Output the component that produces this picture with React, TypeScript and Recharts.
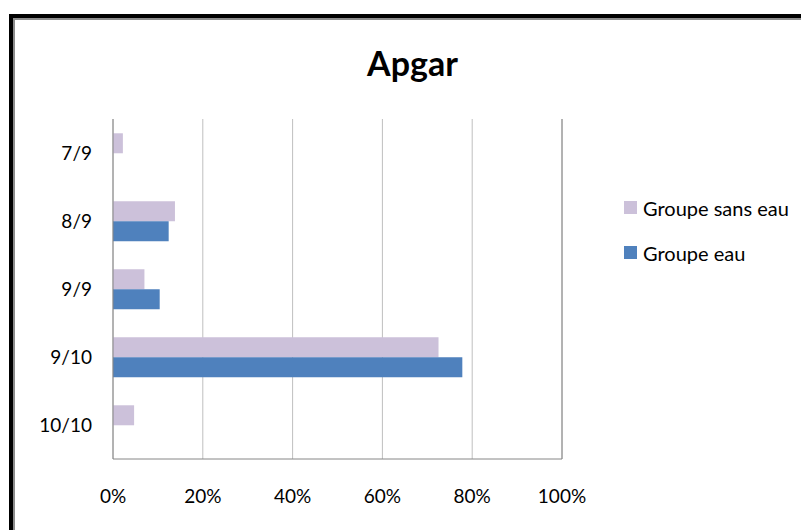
import React from 'react';
import { BarChart, Bar, CartesianGrid, XAxis, YAxis, Legend, ReferenceLine } from 'recharts';

const categories = ['7/9', '8/9', '9/9', '9/10', '10/10'];
const sansEau = [0.022, 0.138, 0.07, 0.725, 0.047];
const eau = [0, 0.124, 0.104, 0.778, 0];
const xTicks = [0, 0.2, 0.4, 0.6, 0.8, 1];
const seriesNames = ['Groupe sans eau', 'Groupe eau'];

const colours = { sansEau: '#CCC1DA', eau: '#4F81BD' };
const font = 'Lato, "Liberation Sans", sans-serif';

const data = categories.map((name, i) => ({ name, sansEau: sansEau[i], eau: eau[i] }));

const LegendBox = ({ payload }: any) => {
  const items = [...(payload || [])].sort((a: any, b: any) => seriesNames.indexOf(a.value) - seriesNames.indexOf(b.value));
  return (
    <div style={{ fontFamily: font, fontSize: 20, color: '#000' }}>
      {items.map((p: any) => (
        <div key={p.value} style={{ display: 'flex', alignItems: 'center', height: 45 }}>
          <span style={{ width: 13, height: 13, background: p.color, marginRight: 6, display: 'inline-block' }} />
          <span>{p.value}</span>
        </div>
      ))}
    </div>
  );
};

export default function App() {
  return (
    <div style={{ position: 'absolute', left: 0, top: 0, width: 801, height: 530, overflow: 'hidden', background: '#fff' }}>
      <div style={{ position: 'absolute', left: 9, top: 14, width: 900, height: 600, borderLeft: '4px solid #000', borderTop: '4px solid #000' }} />
      <div style={{ position: 'absolute', left: 13, top: 18, width: 900, height: 600, borderLeft: '2px solid #8c8c8c', borderTop: '2px solid #8c8c8c' }} />
      <div style={{ position: 'absolute', left: 0, top: 42, width: 825, textAlign: 'center', fontFamily: font, fontWeight: 700, fontSize: 34, color: '#000' }}>
        Apgar
      </div>
      <div style={{ position: 'absolute', left: 0, top: 0 }}>
        <BarChart
          width={801}
          height={530}
          data={data}
          layout="vertical"
          margin={{ top: 119, right: 239, bottom: 11, left: 13 }}
          barCategoryGap="21%"
          barGap={0}
        >
          <CartesianGrid horizontal={false} stroke="#BFBFBF" />
          <XAxis
            type="number"
            domain={[0, 1]}
            ticks={xTicks}
            tickFormatter={(v: number) => `${Math.round(v * 100)}%`}
            axisLine={{ stroke: '#868686' }}
            tickLine={false}
            tickMargin={25}
            height={60}
            tick={{ fill: '#000', fontSize: 19, fontFamily: font }}
          />
          <YAxis
            type="category"
            dataKey="name"
            width={100}
            axisLine={{ stroke: '#868686' }}
            tickLine={false}
            tickMargin={15}
            tick={{ fill: '#000', fontSize: 19, fontFamily: font }}
          />
          <ReferenceLine x={1} stroke="#868686" />
          <Legend
            layout="vertical"
            align="center"
            verticalAlign="middle"
            content={<LegendBox />}
            wrapperStyle={{ left: 624, top: 185, width: 180 }}
          />
          <Bar dataKey="sansEau" name="Groupe sans eau" fill={colours.sansEau} isAnimationActive={false} />
          <Bar dataKey="eau" name="Groupe eau" fill={colours.eau} isAnimationActive={false} />
        </BarChart>
      </div>
    </div>
  );
}
